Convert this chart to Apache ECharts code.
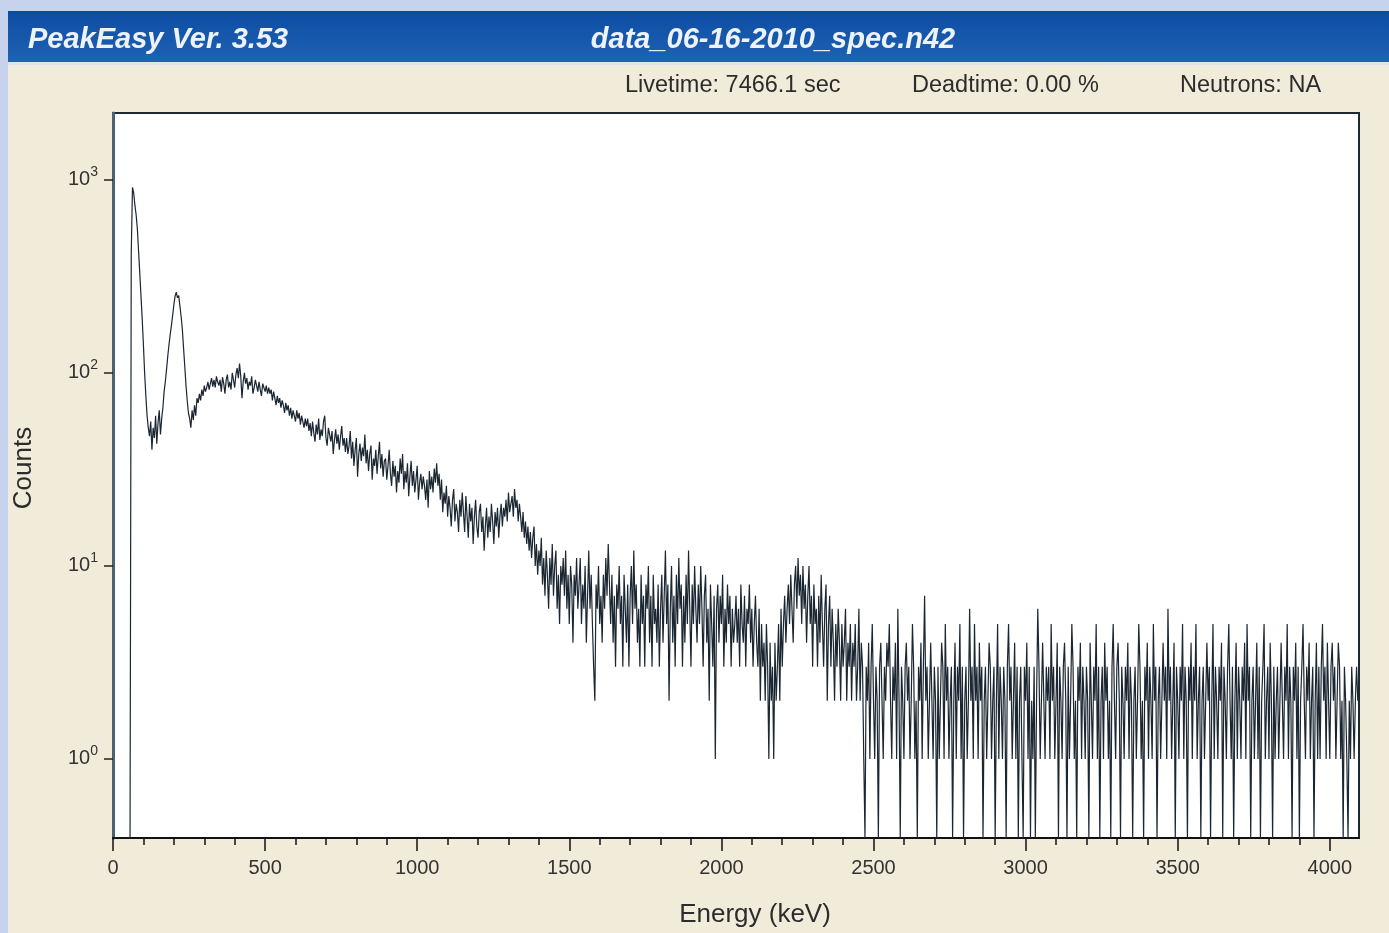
<!DOCTYPE html>
<html>
<head>
<meta charset="utf-8">
<script src="https://cdn.jsdelivr.net/npm/echarts@6/dist/echarts.min.js"></script>
<style>
html,body{margin:0;padding:0;background:#c7d3ec;}
#chart{width:1389px;height:933px;}
</style>
</head>
<body>
<div id="chart"></div>
<script>
// ---- data: counts per 4 keV channel ----
const CHANNEL_KEV = 4;
const countsA = [ // 0 - 1020 keV
  0,0,0,0,0,0,0,0,0,0,0,0,0,0,0,420,915,860,740,660,560,430,330,250,190,140,100,76,60,52,47,56,
  40,52,46,60,43,55,64,48,58,66,80,90,104,122,140,158,176,198,225,250,262,245,252,222,196,168,134,108,86,72,62,58,
  52,64,57,68,60,74,70,78,72,82,76,86,80,84,90,82,88,94,85,92,84,96,90,86,92,80,95,88,78,92,98,84,
  90,82,100,92,84,98,106,94,112,96,74,90,100,88,94,82,90,86,96,78,84,92,86,80,90,82,76,88,84,80,86,78,
  84,78,82,72,80,74,68,76,70,74,66,72,68,62,70,64,68,60,66,58,64,60,56,64,58,62,54,60,56,52,58,53,
  58,50,55,47,56,49,44,54,48,58,45,51,47,56,60,46,42,52,48,44,50,38,45,51,43,48,40,47,53,42,46,39,
  46,38,42,50,36,44,33,40,46,29,38,43,35,41,37,48,34,40,31,38,42,28,36,33,40,30,37,44,32,38,29,35,
  36,28,33,40,30,26,35,29,33,24,31,27,36,30,38,25,31,27,34,23,29,35,26,31,24,28,33,22,27,30,25,29
];
const countsB = [ // 1024 - 2044 keV
  26,22,28,20,31,25,29,24,32,27,34,26,30,22,28,19,24,21,26,18,23,20,16,22,25,17,21,19,15,22,18,24,
  19,15,23,18,14,21,17,20,13,18,22,16,14,19,21,15,18,12,16,20,14,18,15,21,17,13,19,16,20,14,18,21,
  16,20,18,22,17,24,19,21,23,18,25,20,22,17,21,18,15,19,14,17,13,16,12,15,11,14,16,10,13,9,12,10,
  14,8,11,7,12,9,6,11,8,13,7,10,12,6,9,5,10,8,11,7,12,6,9,5,10,8,4,9,7,11,6,8,
  11,5,8,6,10,4,7,12,6,9,5,3,2,8,6,10,5,7,4,9,6,11,7,13,8,5,9,4,7,3,8,6,
  10,5,7,3,9,6,4,8,3,7,10,5,12,6,8,4,6,3,9,5,7,3,8,6,10,4,7,3,9,5,6,4,
  8,3,6,9,4,7,12,5,8,2,6,10,4,7,3,9,5,11,6,8,3,7,4,9,5,12,6,3,8,5,10,6,
  4,8,5,10,6,3,7,9,4,6,2,8,5,3,7,1,6,8,4,7,5,9,3,6,4,8,5,7,3,6,4,5
];
const countsC = [ // 2048 - 3068 keV
  7,4,6,3,8,5,4,7,3,6,5,8,4,6,3,5,7,4,3,6,2,5,3,4,2,5,3,1,4,2,3,1,
  4,2,3,5,2,6,3,5,7,4,6,8,5,9,6,4,8,10,6,11,7,9,5,10,6,8,4,7,10,5,7,3,
  8,5,6,3,7,4,9,5,3,6,8,2,5,7,3,6,4,2,5,3,6,4,2,5,3,4,6,2,4,3,5,2,
  4,3,5,2,3,6,2,4,3,1,0,3,2,4,1,3,5,2,1,3,2,0,3,4,2,1,3,2,4,3,5,2,
  1,3,2,4,1,6,2,0,3,2,1,3,4,2,3,1,2,5,3,1,2,0,3,2,4,1,3,7,2,3,1,2,
  4,2,1,3,2,0,3,1,2,4,3,1,5,2,3,1,2,3,0,2,4,1,3,2,5,1,3,0,2,3,1,2,
  6,2,3,1,5,2,3,1,4,2,3,0,2,3,1,2,4,3,1,2,3,0,2,5,1,3,2,1,3,2,0,3,
  5,2,3,1,2,4,1,3,0,2,3,1,0,3,2,4,1,3,0,2,1,3,0,2,6,3,1,2,4,2,1,3
];
const countsD = [ // 3072 - 4092 keV
  2,3,1,5,2,3,1,2,4,0,3,2,1,3,4,2,0,3,1,2,5,3,1,2,0,3,2,4,1,3,2,1,
  3,2,0,4,2,1,3,2,5,1,3,0,2,3,1,4,2,3,1,2,0,3,5,2,1,3,4,2,0,3,2,1,
  3,2,4,1,3,2,0,2,3,1,2,5,3,1,2,0,3,2,4,1,3,2,1,5,2,3,0,2,3,1,2,4,
  2,3,1,6,2,3,1,2,4,0,3,2,1,3,2,5,1,3,2,0,3,2,4,1,3,2,5,1,2,3,0,2,
  3,1,2,4,2,3,0,2,5,1,3,2,1,3,2,4,0,3,2,1,3,5,2,1,3,0,2,4,1,3,2,1,
  3,2,4,1,5,2,3,0,2,3,1,2,4,1,3,0,2,3,5,1,2,3,1,4,2,0,3,1,2,3,1,2,
  4,2,1,3,2,5,1,3,2,0,3,2,4,1,3,0,2,3,5,2,1,3,2,4,1,2,3,0,2,4,1,3,
  1,3,5,2,3,1,4,2,1,3,4,2,3,1,2,4,3,1,2,0,3,2,1,0,2,1,3,2,1,2,3,2
];
const xMajorTicks = [0,500,1000,1500,2000,2500,3000,3500,4000];
const xMinorTicks = [100,200,300,400,600,700,800,900,1100,1200,1300,1400,1600,1700,1800,1900,2100,2200,2300,2400,2600,2700,2800,2900,3100,3200,3300,3400,3600,3700,3800,3900,4100];
const yDecades = [0,1,2,3]; // exponents: 10^0 .. 10^3
const titleLeft = 'PeakEasy Ver. 3.53';
const titleFile = 'data_06-16-2010_spec.n42';
const infoTexts = ['Livetime: 7466.1 sec','Deadtime: 0.00 %','Neutrons: NA'];
const xTitle = 'Energy (keV)';
const yTitle = 'Counts';

// ---- build ----
const X_MAX = 4096;
const Y_MIN = -0.41, Y_MAX = 3.347;
const allCounts = countsA.concat(countsB, countsC, countsD);
const seriesData = allCounts.map((c, i) => [i * CHANNEL_KEV, c > 0 ? Math.log10(c) : Y_MIN]);

const FONT = 'Liberation Sans, Arial, sans-serif';
const GRID = {left:113, right:30, top:113, bottom:95};
const chart = echarts.init(document.getElementById('chart'), null, {renderer: 'canvas'});
chart.setOption({
  animation: false,
  backgroundColor: '#c7d3ec',
  graphic: [
    {type:'rect', z:-10, shape:{x:8,y:62,width:1381,height:871}, style:{fill:'#f1ecda'}},
    {type:'rect', z:-9, shape:{x:8,y:11,width:1381,height:52},
      style:{fill:new echarts.graphic.LinearGradient(0,0,0,1,[{offset:0,color:'#0c4da3'},{offset:1,color:'#1f63b4'}])}},
    {type:'rect', z:-9, shape:{x:8,y:62,width:1381,height:3}, style:{fill:'#dfe5ee'}},
    {type:'text', z:10, style:{x:28,y:40,text:titleLeft,fill:'#eef2fa',font:'italic bold 29px ' + FONT,textVerticalAlign:'middle'}},
    {type:'text', z:10, style:{x:773,y:40,text:titleFile,fill:'#eef2fa',font:'italic bold 29px ' + FONT,textAlign:'center',textVerticalAlign:'middle'}},
    {type:'text', z:10, style:{x:625,y:86,text:infoTexts[0],fill:'#2c2c2c',font:'23.5px ' + FONT,textVerticalAlign:'middle'}},
    {type:'text', z:10, style:{x:912,y:86,text:infoTexts[1],fill:'#2c2c2c',font:'23.5px ' + FONT,textVerticalAlign:'middle'}},
    {type:'text', z:10, style:{x:1180,y:86,text:infoTexts[2],fill:'#2c2c2c',font:'23.5px ' + FONT,textVerticalAlign:'middle'}},
    {type:'text', z:10, x:24, y:468, rotation:Math.PI/2, style:{x:0,y:0,text:yTitle,fill:'#2c2c2c',font:'26px ' + FONT,textAlign:'center',textVerticalAlign:'middle'}},
    {type:'text', z:10, style:{x:755,y:915,text:xTitle,fill:'#2c2c2c',font:'26px ' + FONT,textAlign:'center',textVerticalAlign:'middle'}}
  ],
  grid: [
    Object.assign({show:true, backgroundColor:'#ffffff', borderColor:'#1d2a30', borderWidth:2}, GRID),
    Object.assign({show:false}, GRID)
  ],
  xAxis: [
    {type:'value', gridIndex:0, min:0, max:X_MAX, position:'bottom',
      axisLine:{show:true, onZero:false, lineStyle:{color:'#111', width:2}},
      axisTick:{show:true, customValues:xMajorTicks, length:13, lineStyle:{color:'#111', width:1.5}},
      axisLabel:{show:true, customValues:xMajorTicks, fontSize:20, color:'#333', fontFamily:FONT, margin:20,
        formatter: v => String(v)},
      splitLine:{show:false}},
    {type:'value', gridIndex:1, min:0, max:X_MAX, position:'bottom',
      axisLine:{show:false, onZero:false},
      axisTick:{show:true, customValues:xMinorTicks, length:7, lineStyle:{color:'#111', width:1.5}},
      axisLabel:{show:false}, splitLine:{show:false}}
  ],
  yAxis: [
    {type:'value', gridIndex:0, min:Y_MIN, max:Y_MAX,
      axisLine:{show:true, onZero:false, lineStyle:{color:'#4b6472', width:3}},
      axisTick:{show:true, customValues:yDecades, length:9, lineStyle:{color:'#222', width:1.5}},
      axisLabel:{show:true, customValues:yDecades, margin:15, fontFamily:FONT,
        formatter: v => '{b|10}{s|' + Math.round(v) + '}',
        rich:{b:{fontSize:20, color:'#333', lineHeight:30, fontFamily:FONT}, s:{fontSize:14, color:'#333', lineHeight:12, verticalAlign:'top', fontFamily:FONT}}},
      splitLine:{show:false}},
    {type:'value', gridIndex:1, min:Y_MIN, max:Y_MAX, show:false}
  ],
  series: [{
    type:'line', xAxisIndex:0, yAxisIndex:0, data:seriesData, showSymbol:false, symbol:'none',
    sampling:null, clip:true, lineStyle:{color:'#1a2631', width:1.2}
  }]
});
</script>
</body>
</html>
